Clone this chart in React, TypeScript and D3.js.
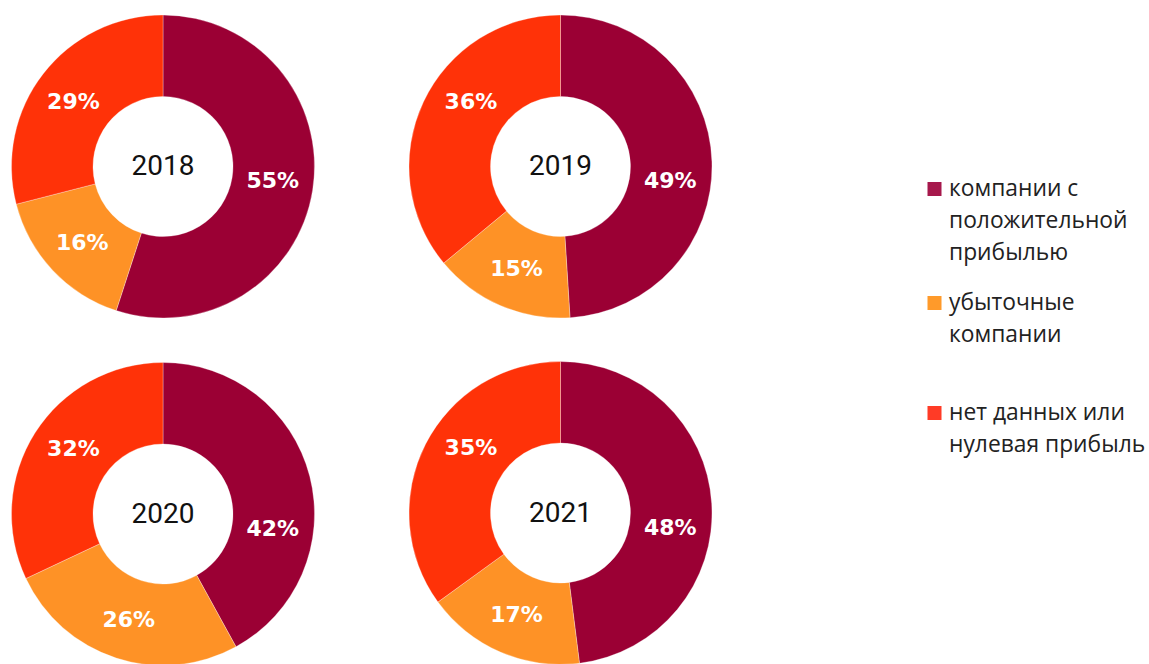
import React, { useEffect, useRef } from "react";
import * as d3 from "d3";

const categories = [
  "компании с положительной прибылью",
  "убыточные компании",
  "нет данных или нулевая прибыль",
];
const years = ["2018", "2019", "2020", "2021"];
const positiveShare = [55, 49, 42, 48];
const lossShare = [16, 15, 26, 17];
const noDataShare = [29, 36, 32, 35];

const legendLines = [
  ["компании с", "положительной", "прибылью"],
  ["убыточные", "компании"],
  ["нет данных или", "нулевая прибыль"],
];

const sliceColors = ["#9b0034", "#fe9226", "#ff3208"];
const legendColors = ["#a6184c", "#ff9a2a", "#ff3b26"];

const W = 1149;
const H = 664;

export default function App() {
  const ref = useRef<SVGSVGElement | null>(null);

  useEffect(() => {
    const svg = d3.select(ref.current);
    svg.selectAll("*").remove();

    const centers = [
      [163, 166.5],
      [560.5, 166.5],
      [163, 514],
      [560.5, 513],
    ];
    const outerR = 151.5;
    const innerR = 70;
    const labelR = (outerR + innerR) / 2;
    // label placement: first slice label sits just below the horizontal on the right,
    // third slice label sits in the upper-left; second follows its slice middle
    const deg = Math.PI / 180;
    const fixedLabelAngle: (number | null)[] = [97.5 * deg, null, 306 * deg];

    const pie = d3
      .pie<number>()
      .sort(null)
      .value((d) => d);
    const arc = d3
      .arc<d3.PieArcDatum<number>>()
      .innerRadius(innerR)
      .outerRadius(outerR);

    years.forEach((yr, i) => {
      const values = [positiveShare[i], lossShare[i], noDataShare[i]];
      const g = svg
        .append("g")
        .attr("transform", `translate(${centers[i][0]},${centers[i][1]})`);
      const arcs = pie(values);
      g.selectAll("path")
        .data(arcs)
        .enter()
        .append("path")
        .attr("d", arc)
        .attr("fill", (_d, j) => sliceColors[j])
        .attr("stroke", "#ffffff")
        .attr("stroke-opacity", 0.5)
        .attr("stroke-width", 0.6);
      const labelAngle = (d: d3.PieArcDatum<number>, j: number) => {
        const f = fixedLabelAngle[j];
        return f == null ? (d.startAngle + d.endAngle) / 2 : f;
      };
      g.selectAll("text.pct")
        .data(arcs)
        .enter()
        .append("text")
        .attr("class", "pct")
        .attr("x", (d, j) => labelR * Math.sin(labelAngle(d, j)))
        .attr("y", (d, j) => -labelR * Math.cos(labelAngle(d, j)))
        .attr("text-anchor", "middle")
        .attr("dominant-baseline", "central")
        .attr("fill", "#ffffff")
        .attr("font-family", "'DejaVu Sans', sans-serif")
        .attr("font-weight", "bold")
        .attr("font-size", 22)
        .text((d) => `${d.data}%`);
      g.append("text")
        .attr("x", 0)
        .attr("y", -1)
        .attr("text-anchor", "middle")
        .attr("dominant-baseline", "central")
        .attr("fill", "#111111")
        .attr("font-family", "Roboto, sans-serif")
        .attr("font-size", 28)
        .text(yr);
    });

    // Legend
    const legendTop = [196, 310, 420];
    const lineH = 32;
    const lg = svg.append("g");
    categories.forEach((_c, k) => {
      lg.append("rect")
        .attr("x", 927.5)
        .attr("y", legendTop[k] - 14)
        .attr("width", 14)
        .attr("height", 14)
        .attr("fill", legendColors[k]);
      const t = lg
        .append("text")
        .attr("x", 949)
        .attr("y", legendTop[k])
        .attr("fill", "#222222")
        .attr("font-family", "'Open Sans', sans-serif")
        .attr("font-size", 22.8);
      legendLines[k].forEach((line, li) => {
        t.append("tspan")
          .attr("x", 949)
          .attr("y", legendTop[k] + li * lineH)
          .text(line);
      });
    });
  }, []);

  return (
    <div style={{ position: "absolute", left: 0, top: 0 }}>
      <svg ref={ref} width={W} height={H} style={{ display: "block", background: "#ffffff" }} />
    </div>
  );
}
